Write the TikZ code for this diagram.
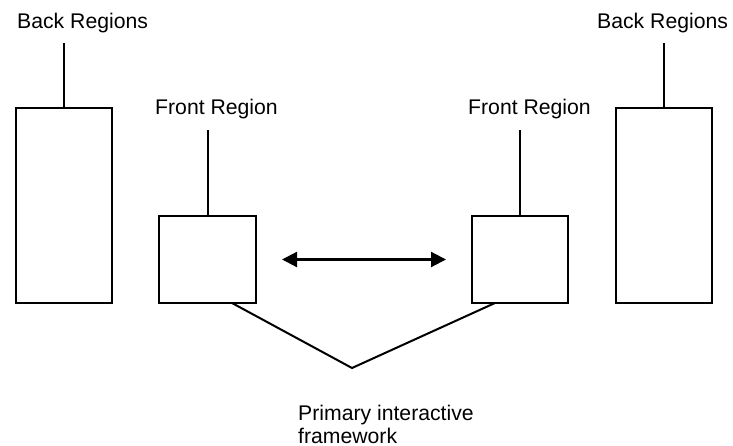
\documentclass[tikz,border=0pt]{standalone}
\usepackage{fontspec}
\setmainfont{Liberation Sans}
\usetikzlibrary{arrows.meta}
\begin{document}
\begin{tikzpicture}[x=1pt,y=-1pt,
  lbl/.style={inner sep=0pt,font=\fontsize{21.2}{24}\selectfont,anchor=base west},
  box/.style={draw,line width=2pt,inner sep=0pt},
  conn/.style={line width=2pt},
  dbl/.style={line width=2.2pt,{Triangle[length=15pt,width=15pt]}-{Triangle[length=15pt,width=15pt]},shorten <=25pt,shorten >=25pt}]
\useasboundingbox (0,0) rectangle (733,446);
% labels
\node[lbl] (tbl) at (17,29) {Back Regions};
\node[lbl] (tbr) at (597,29) {Back Regions};
\node[lbl] (tfl) at (155,115) {Front Region};
\node[lbl] (tfr) at (468,115) {Front Region};
\node[inner sep=0pt,font=\fontsize{21.2}{22.5}\selectfont,align=left,anchor=north west] (tpf) at (298,405) {Primary interactive\\framework};
% boxes
\node[box,minimum width=96pt,minimum height=195pt] (bl) at (64,205.5) {};
\node[box,minimum width=96pt,minimum height=195pt] (br) at (664,205.5) {};
\node[box,minimum width=97pt,minimum height=87pt] (fl) at (207.5,259.5) {};
\node[box,minimum width=96pt,minimum height=87pt] (fr) at (520,259.5) {};
% connector end points
\coordinate (blt) at (64,43);
\coordinate (brt) at (664,43);
\coordinate (flt) at (207.5,130);
\coordinate (frt) at (520,130);
\coordinate (fls) at (232,303);
\coordinate (frs) at (495,303);
\coordinate (apex) at (352,368);
% connectors
\draw[conn] (blt) -- (bl.north);
\draw[conn] (brt) -- (br.north);
\draw[conn] (flt) -- (fl.north);
\draw[conn] (frt) -- (fr.north);
\draw[conn] (fls) -- (apex) -- (frs);
\draw[dbl] (fl.east) -- (fr.west);
\end{tikzpicture}
\end{document}
